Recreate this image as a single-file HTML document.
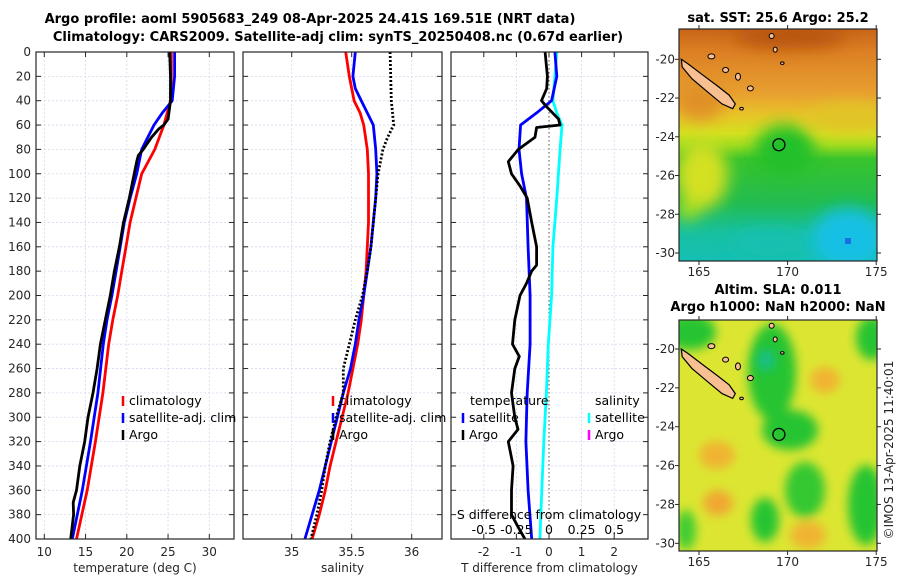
<!DOCTYPE html>
<html><head><meta charset="utf-8">
<style>
html,body{margin:0;padding:0;background:#fff;}
svg{display:block;font-family:"DejaVu Sans","Liberation Sans",sans-serif;}
.tk{font-size:12px;fill:#262626;}
.ttl{font-size:13px;font-weight:bold;fill:#000;}
.lg{font-size:12.5px;fill:#000;}
</style></head>
<body>
<svg id="fig" width="900" height="580" viewBox="0 0 900 580" xmlns="http://www.w3.org/2000/svg">
<defs>
<clipPath id="c1"><rect x="36" y="52" width="198" height="487"/></clipPath>
<clipPath id="c2"><rect x="243" y="52" width="199" height="487"/></clipPath>
<clipPath id="c3"><rect x="451" y="52" width="197" height="487"/></clipPath>
<clipPath id="cm1"><rect x="679" y="29" width="198" height="232"/></clipPath>
<clipPath id="cm2"><rect x="679" y="320" width="198" height="231"/></clipPath>
<filter id="bl" x="-50%" y="-50%" width="200%" height="200%"><feGaussianBlur stdDeviation="8"/></filter>
<filter id="bl2" x="-50%" y="-50%" width="200%" height="200%"><feGaussianBlur stdDeviation="5"/></filter>
<linearGradient id="sstg" x1="0" y1="0" x2="0" y2="1">
<stop offset="0" stop-color="#c86418"/><stop offset="0.1" stop-color="#dc8024"/><stop offset="0.28" stop-color="#e8a030"/>
<stop offset="0.37" stop-color="#e8c428"/><stop offset="0.45" stop-color="#d4e020"/><stop offset="0.5" stop-color="#a0dc20"/>
<stop offset="0.56" stop-color="#38c42c"/><stop offset="0.75" stop-color="#22bc50"/><stop offset="0.88" stop-color="#18c0a0"/><stop offset="1" stop-color="#14c0b4"/></linearGradient>
</defs>

<text class="ttl" x="310" y="23" text-anchor="middle">Argo profile: aoml 5905683_249 08-Apr-2025 24.41S 169.51E (NRT data)</text>
<text class="ttl" x="338" y="41" text-anchor="middle">Climatology: CARS2009. Satellite-adj clim: synTS_20250408.nc (0.67d earlier)</text>

<g id="grids"></g>
<g id="series"></g>
<g id="axes"></g>
<g id="legends"></g>

<g>
<g clip-path="url(#cm1)">
<rect x="679" y="29" width="198" height="232" fill="url(#sstg)"/>
<g filter="url(#bl)">
<ellipse cx="790" cy="36" rx="55" ry="12" fill="#b85410"/>
<ellipse cx="700" cy="100" rx="25" ry="20" fill="#e09028"/>
<ellipse cx="702" cy="175" rx="26" ry="34" fill="#d4e020"/>
<ellipse cx="688" cy="210" rx="12" ry="10" fill="#a8e020"/>
<ellipse cx="850" cy="118" rx="40" ry="14" fill="#e0c428"/>
<ellipse cx="785" cy="150" rx="30" ry="25" fill="#24c02a"/>
<ellipse cx="848" cy="238" rx="36" ry="30" fill="#18c0e4"/>
<ellipse cx="770" cy="245" rx="40" ry="16" fill="#16c0b0"/>
</g>
<rect x="845" y="238" width="6" height="6" fill="#1a70e0"/>
</g>
<text class="ttl" x="778" y="22" text-anchor="middle">sat. SST: 25.6 Argo: 25.2</text>
</g>

<g>
<g clip-path="url(#cm2)">
<rect x="679" y="320" width="198" height="231" fill="#dce632"/>
<g filter="url(#bl2)">
<ellipse cx="690" cy="332" rx="26" ry="18" fill="#28c430"/>
<ellipse cx="772" cy="372" rx="24" ry="48" fill="#28c430"/>
<ellipse cx="790" cy="430" rx="28" ry="20" fill="#28c430"/>
<ellipse cx="872" cy="338" rx="16" ry="22" fill="#28c430"/>
<ellipse cx="866" cy="505" rx="18" ry="40" fill="#28c430"/>
<ellipse cx="805" cy="490" rx="20" ry="28" fill="#34c830"/>
<ellipse cx="765" cy="520" rx="14" ry="22" fill="#28c430"/>
<ellipse cx="686" cy="530" rx="10" ry="20" fill="#40cc30"/>
<ellipse cx="717" cy="455" rx="18" ry="14" fill="#f0b430"/>
<ellipse cx="718" cy="503" rx="15" ry="13" fill="#f0a830"/>
<ellipse cx="825" cy="380" rx="15" ry="13" fill="#f0b430"/>
<ellipse cx="808" cy="535" rx="18" ry="14" fill="#f0b430"/>
</g>
<g filter="url(#bl2)"><ellipse cx="766" cy="360" rx="9" ry="11" fill="#18c088"/></g>
</g>
<text class="ttl" x="778" y="294" text-anchor="middle">Altim. SLA: 0.011</text>
<text class="ttl" x="778" y="311" text-anchor="middle">Argo h1000: NaN h2000: NaN</text>
</g>
<g id="mapaxes"></g>
<text class="tk" transform="translate(893,450) rotate(-90)" text-anchor="middle">©IMOS 13-Apr-2025 11:40:01</text>

<script>
// ---- Data ----
const tClimDepth=[0,20,40,60,80,100,120,140,160,180,200,220,240,280,320,360,400];
const tClim=[25.4,25.4,25.3,24.5,23.4,21.8,21.1,20.4,19.9,19.4,18.9,18.3,17.8,17.1,16.2,15.2,13.9];
const tSatDepth=[0,20,40,50,60,80,100,120,140,160,180,200,220,240,280,320,360,400];
const tSat=[25.8,25.8,25.5,24.3,23.3,21.8,21.2,20.4,19.7,19.2,18.7,18.2,17.6,17.15,16.5,15.6,14.6,13.4];
const tArgoDepth=[0,20,40,55,60,63,70,80,85,90,100,120,140,160,180,200,220,240,260,280,300,320,340,360,370,380,400];
const tArgo=[25.2,25.3,25.3,25.0,24.5,23.9,23.0,22.0,21.4,21.2,20.9,20.3,19.6,19.1,18.5,18.0,17.4,16.8,16.4,15.9,15.3,14.9,14.3,13.9,13.5,13.55,13.2];
const sClimDepth=[0,20,40,50,60,80,100,140,160,180,200,220,240,260,280,300,320,340,360,380,400];
const sClim=[35.45,35.48,35.52,35.57,35.60,35.63,35.64,35.64,35.63,35.62,35.60,35.58,35.55,35.51,35.47,35.42,35.37,35.32,35.28,35.23,35.17];
const sSatDepth=[0,20,30,40,60,80,100,120,140,160,180,200,220,240,260,280,300,320,340,360,380,400];
const sSat=[35.53,35.51,35.53,35.58,35.68,35.70,35.71,35.70,35.68,35.66,35.63,35.60,35.56,35.53,35.49,35.43,35.38,35.33,35.28,35.23,35.17,35.11];
const sArgoDepth=[0,40,60,70,80,100,140,160,180,200,220,240,260,280,300,320,340,360,380,400];
const sArgo=[35.82,35.83,35.85,35.80,35.76,35.72,35.68,35.66,35.63,35.59,35.53,35.48,35.43,35.43,35.37,35.32,35.28,35.25,35.21,35.16];
const dTSatDepth=[0,20,40,50,60,80,100,120,160,200,240,280,300,320,360,400];
const dTSat=[0.18,0.24,0.08,-0.38,-0.87,-0.92,-0.84,-0.69,-0.64,-0.58,-0.58,-0.67,-0.69,-0.71,-0.64,-0.53];
const dTArgoDepth=[0,20,30,40,45,55,60,62,70,80,90,100,110,120,140,160,175,180,190,200,220,240,250,260,280,300,310,320,340,360,380,390,400];
const dTArgo=[-0.12,-0.05,-0.07,-0.23,-0.07,0.29,0.34,-0.38,-0.43,-0.94,-1.25,-1.15,-0.89,-0.67,-0.53,-0.38,-0.38,-0.53,-0.69,-0.89,-1.05,-1.12,-0.91,-1.05,-1.15,-1.05,-0.95,-1.25,-1.10,-1.15,-1.15,-0.95,-0.74];
const dSSatDepth=[0,40,50,60,80,120,160,200,240,280,300,320,360,400];
const dSSat=[0.06,0.03,0.06,0.10,0.085,0.06,0.03,0.02,-0.005,-0.02,-0.03,-0.04,-0.055,-0.07];
const depthTicks=[0,20,40,60,80,100,120,140,160,180,200,220,240,260,280,300,320,340,360,380,400];
const tempTicks=[10,15,20,25,30];
const salTicks=[35,35.5,36];
const dTTicks=[-2,-1,0,1,2];
const dSTicks=[-0.5,-0.25,0,0.25,0.5];
const dSTickLabels=["-0.5","-0.25","0","0.25","0.5"];
const lonTicks=[165,170,175];
const latTicks=[-20,-22,-24,-26,-28,-30];

// ---- Scales ----
const Y0=52,Y1=539;
function yD(d){return Y0+d*(Y1-Y0)/400;}
function xT(t){return 44.3+(t-10)*8.25;}
function xS(s){return 291.7+(s-35)*120;}
function xDT(v){return 549+v*32.6;}
function xDS(v){return 549+v*130.4;}
function lonX(l){return 699+(l-165)*17.72;}
function latY1(l){return 59.3+(-20-l)*19.37;}
function latY2(l){return 349+(-20-l)*19.43;}

const NS='http://www.w3.org/2000/svg';
function mk(tag,attrs,parent){const e=document.createElementNS(NS,tag);for(const k in attrs)e.setAttribute(k,attrs[k]);parent.appendChild(e);return e;}
const G=document.getElementById('grids'),S=document.getElementById('series'),A=document.getElementById('axes'),L=document.getElementById('legends'),M=document.getElementById('mapaxes');

const panels=[
 {x0:36,x1:234,ticks:tempTicks,fx:xT,clip:'c1',name:'temperature',label:'temperature (deg C)',lab:t=>String(t)},
 {x0:243,x1:442,ticks:salTicks,fx:xS,clip:'c2',name:'salinity',label:'salinity',lab:t=>String(t)},
 {x0:451,x1:648,ticks:dTTicks,fx:xDT,clip:'c3',name:'tdiff',label:'T difference from climatology',lab:t=>String(t)}
];
panels.forEach((p,i)=>{
 const g=mk('g',{},G);
 
 
 depthTicks.forEach(d=>{ if(d>0&&d<400) mk('line',{x1:p.x0,x2:p.x1,y1:yD(d),y2:yD(d),stroke:'#d4daee','stroke-width':0.8,'stroke-dasharray':'2 2'},g); });
 p.ticks.forEach(t=>{ mk('line',{x1:p.fx(t),x2:p.fx(t),y1:Y0,y2:Y1,stroke:'#d4daee','stroke-width':0.8,'stroke-dasharray':'2 2'},g); });
 const ax=mk('g',{},A);
 
 
 mk('rect',{x:p.x0,y:Y0,width:p.x1-p.x0,height:Y1-Y0,fill:'none',stroke:'#262626','stroke-width':1.2},ax);
 depthTicks.forEach(d=>{
  mk('line',{x1:p.x0,x2:p.x0+5,y1:yD(d),y2:yD(d),stroke:'#262626'},ax);
  mk('line',{x1:p.x1-5,x2:p.x1,y1:yD(d),y2:yD(d),stroke:'#262626'},ax);
 });
 p.ticks.forEach(t=>{
  mk('line',{x1:p.fx(t),x2:p.fx(t),y1:Y1,y2:Y1-5,stroke:'#262626'},ax);
  mk('line',{x1:p.fx(t),x2:p.fx(t),y1:Y0,y2:Y0+5,stroke:'#262626'},ax);
  const tx=mk('text',{x:p.fx(t),y:556,'text-anchor':'middle',class:'tk'},ax);tx.textContent=p.lab(t);
  
  
 });
 const xl=mk('text',{x:(p.x0+p.x1)/2,y:572,'text-anchor':'middle',class:'tk','font-size':'13'},ax);xl.textContent=p.label;
 
 
});
depthTicks.forEach(d=>{
 const t=mk('text',{x:31,y:yD(d)+4,'text-anchor':'end',class:'tk'},A);t.textContent=String(d);
 
 
});
const z=mk('line',{x1:xDT(0),x2:xDT(0),y1:Y0,y2:Y1,stroke:'#555','stroke-width':1,'stroke-dasharray':'1.5 2.5'},G);



function path(depths,vals,fx,color,clip,name,dash){
 let d='';depths.forEach((dd,i)=>{d+=(i?'L':'M')+fx(vals[i]).toFixed(1)+','+yD(dd).toFixed(1);});
 const a={d:d,fill:'none',stroke:color,'stroke-width':2.8,'stroke-linejoin':'round','clip-path':'url(#'+clip+')'};
 if(dash)a['stroke-dasharray']=dash;
 const p=mk('path',a,S);
 
 
}
path(tClimDepth,tClim,xT,'#ff0000','c1','temp-climatology-line');
path(tSatDepth,tSat,xT,'#0000ff','c1','temp-satellite-line');
path(tArgoDepth,tArgo,xT,'#000000','c1','temp-argo-line');
path(sClimDepth,sClim,xS,'#ff0000','c2','sal-climatology-line');
path(sSatDepth,sSat,xS,'#0000ff','c2','sal-satellite-line');
path(sArgoDepth,sArgo,xS,'#000000','c2','sal-argo-line','2 2');
path(dSSatDepth,dSSat,xDS,'#00ffff','c3','sdiff-satellite-line');
path(dTSatDepth,dTSat,xDT,'#0000ff','c3','tdiff-satellite-line');
path(dTArgoDepth,dTArgo,xDT,'#000000','c3','tdiff-argo-line');

function legEntry(x,y,color,label,name){
 const g=mk('g',{},L);
 
 
 mk('line',{x1:x,x2:x,y1:y-9,y2:y+1,stroke:color,'stroke-width':2.5},g);
 const t=mk('text',{x:x+6,y:y,class:'lg'},g);t.textContent=label;
}
legEntry(123,405,'#ff0000','climatology','legend-entry-climatology');
legEntry(123,422,'#0000ff','satellite-adj. clim','legend-entry-satellite');
legEntry(123,439,'#000000','Argo','legend-entry-argo');
legEntry(333,405,'#ff0000','climatology','legend-entry-sal-climatology');
legEntry(333,422,'#0000ff','satellite-adj. clim','legend-entry-sal-satellite');
legEntry(333,439,'#000000','Argo','legend-entry-sal-argo');
let th=mk('text',{x:470,y:405,class:'lg'},L);th.textContent='temperature';


legEntry(463,422,'#0000ff','satellite','legend-entry-tdiff-satellite');
legEntry(463,439,'#000000','Argo','legend-entry-tdiff-argo');
let sh=mk('text',{x:595,y:405,class:'lg'},L);sh.textContent='salinity';


legEntry(589,422,'#00ffff','satellite','legend-entry-sdiff-satellite');
legEntry(589,439,'#ff00ff','Argo','legend-entry-sdiff-argo');
let st=mk('text',{x:549,y:519,'text-anchor':'middle',class:'lg'},L);st.textContent='S difference from climatology';


dSTicks.forEach((v,i)=>{
 const t=mk('text',{x:xDS(v),y:534,'text-anchor':'middle',class:'lg'},L);t.textContent=dSTickLabels[i];
 
 
});

function land(g,dy){
 const nc=[[164.0,-20.0],[164.4,-20.25],[165.2,-20.8],[166.0,-21.35],[166.7,-21.85],[167.05,-22.3],[166.9,-22.55],[166.3,-22.3],[165.5,-21.7],[164.6,-21.0],[164.05,-20.4]];
 const pts=nc.map(p=>lonX(p[0]).toFixed(1)+','+(latY1(p[1])+dy).toFixed(1)).join(' ');
 const n=mk('polygon',{points:pts,fill:'#f8c090',stroke:'#000','stroke-width':1.2},g);
 
 
 const isl=[[165.7,-19.85,3.5,2.5],[166.5,-20.55,3,2.5],[167.2,-20.9,2.5,3.5],[167.9,-21.5,3,2.5],[169.1,-18.8,2.5,2.5],[169.3,-19.5,2,2.5],[169.7,-20.2,1.8,1.3],[167.4,-22.55,1.8,1.3]];
 isl.forEach(s=>{
  const e=mk('ellipse',{cx:lonX(s[0]),cy:latY1(s[1])+dy,rx:s[2],ry:s[3],fill:'#f8c090',stroke:'#000','stroke-width':1},g);
  
  
 });
 const c=mk('circle',{cx:lonX(169.51),cy:latY1(-24.41)+dy,r:6,fill:'none',stroke:'#000','stroke-width':1.3},g);
 
 
}
[[29,261,latY1,0,'cm1','sst'],[320,551,latY2,289.7,'cm2','sla']].forEach(m=>{
 const g=mk('g',{'clip-path':'url(#'+m[4]+')'},M);
 land(g,m[3]);
 const ax=mk('g',{},M);
 
 
 mk('rect',{x:679,y:m[0],width:198,height:m[1]-m[0],fill:'none',stroke:'#262626','stroke-width':1.2},ax);
 lonTicks.forEach(l=>{
  mk('line',{x1:lonX(l),x2:lonX(l),y1:m[1],y2:m[1]+4,stroke:'#262626'},ax);
  mk('line',{x1:lonX(l),x2:lonX(l),y1:m[0],y2:m[0]-4,stroke:'#262626'},ax);
  const t=mk('text',{x:lonX(l),y:m[1]+15,'text-anchor':'middle',class:'tk'},ax);t.textContent=String(l);
 });
 latTicks.forEach(l=>{
  const y=m[2](l);
  mk('line',{x1:675,x2:679,y1:y,y2:y,stroke:'#262626'},ax);
  mk('line',{x1:877,x2:881,y1:y,y2:y,stroke:'#262626'},ax);
  const t=mk('text',{x:675,y:y+4,'text-anchor':'end',class:'tk'},ax);t.textContent=String(l);
 });
});
</script>
</svg>
</body></html>
